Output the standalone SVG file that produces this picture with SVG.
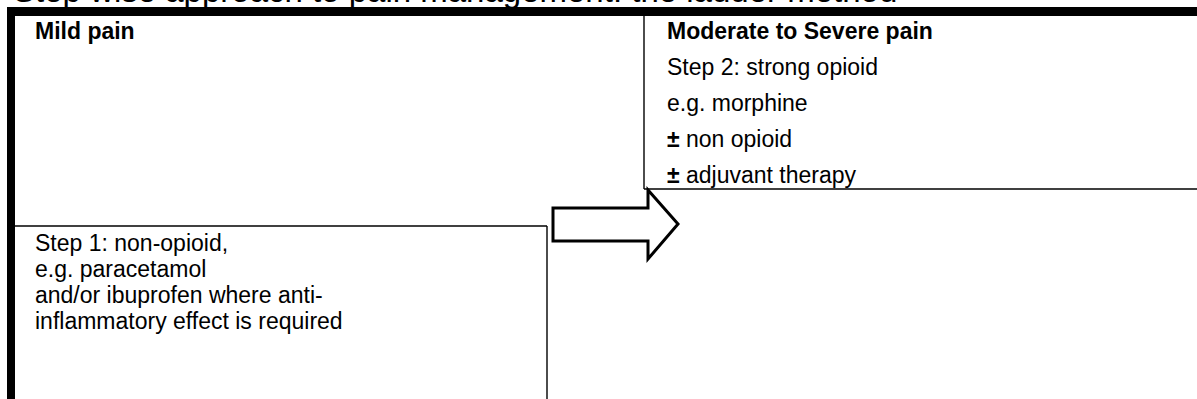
<svg xmlns="http://www.w3.org/2000/svg" width="1197" height="399" viewBox="0 0 1197 399">
  <style>
    .t { font-family: "Liberation Sans", Arial, sans-serif; font-size: 23px; fill: #000; }
    .title { font-family: "Liberation Sans", Arial, sans-serif; font-size: 33px; fill: #000; }
    .b { font-weight: bold; }
    .thin { stroke: #000; stroke-width: 1.4; fill: none; }
    .bar { fill: #000; }
    .arrow { fill: #fff; stroke: #000; stroke-width: 3; stroke-linejoin: miter; }
  </style>
  <rect width="1197" height="399" fill="#fff"/>
  <g id="title">
    <text class="title" x="13" y="2">Step wise approach to pain management: the ladder method</text>
  </g>
  <g id="frame">
    <rect class="bar" x="7" y="7" width="1190" height="9"/>
    <rect class="bar" x="7" y="7" width="8" height="392"/>
  </g>
  <g id="mild-pain">
    <text class="t b" x="35" y="39">Mild pain</text>
  </g>
  <g id="step1">
    <line class="thin" x1="15" y1="226" x2="547" y2="226"/>
    <line class="thin" x1="547" y1="226" x2="547" y2="399"/>
    <text class="t" x="35" y="251">Step 1: non-opioid,</text>
    <text class="t" x="35" y="277">e.g. paracetamol</text>
    <text class="t" x="35" y="303">and/or ibuprofen where anti-</text>
    <text class="t" x="35" y="329">inflammatory effect is required</text>
  </g>
  <g id="step2">
    <line class="thin" x1="644" y1="16" x2="644" y2="189"/>
    <line class="thin" x1="644" y1="189" x2="1197" y2="189"/>
    <text class="t b" x="667" y="39">Moderate to Severe pain</text>
    <text class="t" x="667" y="75">Step 2: strong opioid</text>
    <text class="t" x="667" y="111">e.g. morphine</text>
    <text class="t" x="667" y="147"><tspan class="b">±</tspan> non opioid</text>
    <text class="t" x="667" y="183"><tspan class="b">±</tspan> adjuvant therapy</text>
  </g>
  <g id="connectors">
    <polygon class="arrow" points="553,208 648,208 648,190 678,224 648,259 648,241 553,241"/>
  </g>
</svg>
